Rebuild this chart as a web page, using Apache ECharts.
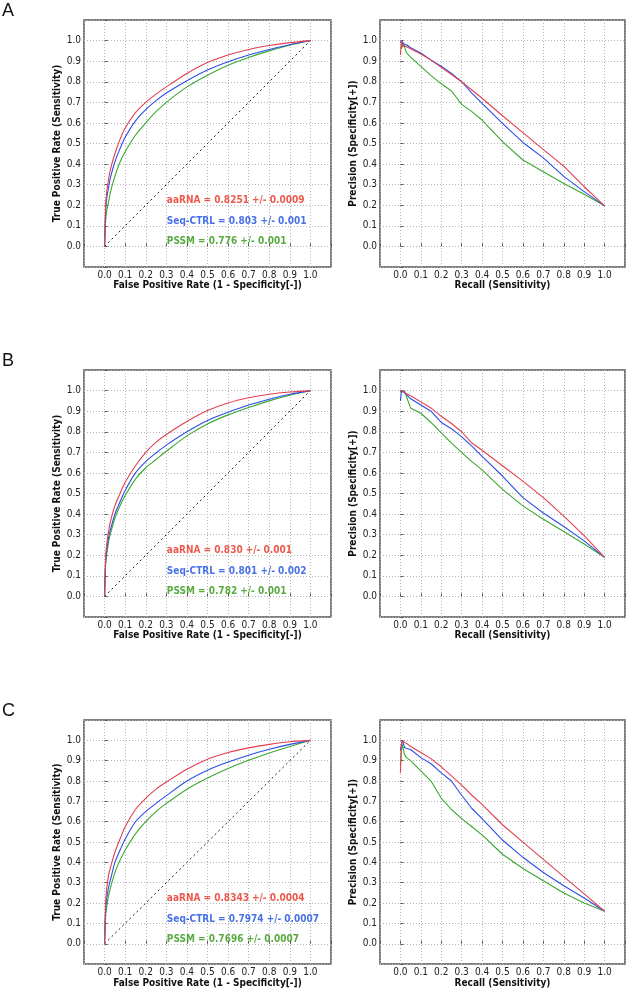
<!DOCTYPE html>
<html>
<head>
<meta charset="utf-8">
<script src="https://cdn.jsdelivr.net/npm/echarts@6/dist/echarts.min.js"></script>
<style>
  html, body { margin: 0; padding: 0; background: #fff; }
  #chart { width: 628px; height: 989px; }
</style>
</head>
<body>
<div id="chart"></div>
<script>
// panel letters and method names
const panelLetters = ['A', 'B', 'C']
const methods = ['aaRNA', 'Seq-CTRL', 'PSSM']
const lineColors = ['#e2404f', '#2b4ee6', '#3aa830']
const textColors = ['#e8301f', '#1a4ee0', '#2f9612']

// ROC: false positive rate (x) and true positive rate per method
const rocFpr = [0, 0.005, 0.01, 0.02, 0.03, 0.05, 0.075, 0.1, 0.15, 0.2, 0.25, 0.3, 0.4, 0.5, 0.6, 0.7, 0.8, 0.9, 1.0]
const rocAaRnaA   = [0, 0.20, 0.26, 0.33, 0.38, 0.45, 0.52, 0.575, 0.65, 0.70, 0.74, 0.775, 0.84, 0.893, 0.93, 0.957, 0.976, 0.99, 1.0]
const rocSeqCtrlA = [0, 0.17, 0.23, 0.29, 0.34, 0.41, 0.475, 0.53, 0.61, 0.665, 0.708, 0.745, 0.805, 0.857, 0.897, 0.93, 0.957, 0.98, 1.0]
const rocPssmA    = [0, 0.12, 0.17, 0.22, 0.27, 0.34, 0.41, 0.46, 0.54, 0.60, 0.655, 0.70, 0.775, 0.832, 0.88, 0.918, 0.95, 0.977, 1.0]
const rocAaRnaB   = [0, 0.19, 0.25, 0.32, 0.37, 0.44, 0.50, 0.555, 0.635, 0.70, 0.75, 0.787, 0.85, 0.903, 0.94, 0.965, 0.982, 0.993, 1.0]
const rocSeqCtrlB = [0, 0.17, 0.22, 0.29, 0.33, 0.40, 0.46, 0.515, 0.60, 0.655, 0.697, 0.735, 0.80, 0.855, 0.895, 0.93, 0.958, 0.982, 1.0]
const rocPssmB    = [0, 0.15, 0.20, 0.27, 0.31, 0.38, 0.44, 0.49, 0.57, 0.625, 0.665, 0.705, 0.78, 0.838, 0.882, 0.918, 0.95, 0.977, 1.0]
const rocAaRnaC   = [0, 0.20, 0.27, 0.34, 0.38, 0.45, 0.515, 0.575, 0.66, 0.715, 0.76, 0.795, 0.858, 0.907, 0.94, 0.963, 0.98, 0.993, 1.0]
const rocSeqCtrlC = [0, 0.17, 0.22, 0.28, 0.32, 0.40, 0.46, 0.515, 0.60, 0.65, 0.69, 0.728, 0.80, 0.853, 0.893, 0.927, 0.956, 0.98, 1.0]
const rocPssmC    = [0, 0.13, 0.18, 0.24, 0.28, 0.35, 0.41, 0.46, 0.54, 0.60, 0.65, 0.69, 0.76, 0.815, 0.862, 0.902, 0.938, 0.97, 1.0]

// PR: recall (x) and precision per method
const prRecall = [0, 0.005, 0.01, 0.02, 0.03, 0.05, 0.1, 0.15, 0.2, 0.25, 0.3, 0.35, 0.4, 0.5, 0.6, 0.7, 0.8, 0.9, 1.0]
const prAaRnaA   = [0.93, 1.0, 0.97, 0.975, 0.97, 0.96, 0.935, 0.905, 0.87, 0.835, 0.80, 0.76, 0.72, 0.635, 0.553, 0.47, 0.39, 0.29, 0.197]
const prSeqCtrlA = [0.99, 1.0, 1.0, 0.98, 0.98, 0.965, 0.94, 0.905, 0.875, 0.84, 0.80, 0.745, 0.695, 0.598, 0.505, 0.43, 0.34, 0.266, 0.197]
const prPssmA    = [0.97, 0.96, 0.99, 0.97, 0.94, 0.92, 0.875, 0.83, 0.79, 0.755, 0.69, 0.655, 0.614, 0.509, 0.42, 0.363, 0.306, 0.253, 0.197]
const prAaRnaB   = [1.0, 1.0, 1.0, 0.99, 0.985, 0.975, 0.945, 0.915, 0.875, 0.84, 0.80, 0.745, 0.71, 0.635, 0.56, 0.48, 0.39, 0.295, 0.19]
const prSeqCtrlB = [0.95, 1.0, 1.0, 0.99, 0.98, 0.96, 0.93, 0.90, 0.845, 0.815, 0.775, 0.73, 0.68, 0.585, 0.48, 0.405, 0.34, 0.27, 0.19]
const prPssmB    = [1.0, 0.99, 0.99, 1.0, 0.97, 0.915, 0.89, 0.845, 0.795, 0.745, 0.70, 0.655, 0.615, 0.52, 0.44, 0.375, 0.315, 0.255, 0.19]
const prAaRnaC   = [0.84, 0.98, 1.0, 0.99, 0.985, 0.97, 0.94, 0.91, 0.87, 0.825, 0.78, 0.73, 0.685, 0.585, 0.50, 0.415, 0.33, 0.245, 0.16]
const prSeqCtrlC = [0.95, 0.98, 1.0, 0.965, 0.96, 0.955, 0.915, 0.885, 0.84, 0.80, 0.73, 0.665, 0.615, 0.51, 0.425, 0.35, 0.285, 0.225, 0.16]
const prPssmC    = [0.88, 0.95, 0.98, 0.93, 0.915, 0.90, 0.85, 0.80, 0.715, 0.66, 0.615, 0.575, 0.535, 0.44, 0.37, 0.31, 0.25, 0.20, 0.16]

// AUC annotations
const aucTextA = ['aaRNA = 0.8251 +/- 0.0009', 'Seq-CTRL = 0.803 +/- 0.001', 'PSSM = 0.776 +/- 0.001']
const aucTextB = ['aaRNA = 0.830 +/- 0.001', 'Seq-CTRL = 0.801 +/- 0.002', 'PSSM = 0.782 +/- 0.001']
const aucTextC = ['aaRNA = 0.8343 +/- 0.0004', 'Seq-CTRL = 0.7974 +/- 0.0007', 'PSSM = 0.7696 +/- 0.0007']
const aucTextX = 0.3
const aucTextY = [0.222, 0.122, 0.022]

const chanceLine = [[0, 0], [1, 1]]

const rocSets = [
  [rocAaRnaA, rocSeqCtrlA, rocPssmA],
  [rocAaRnaB, rocSeqCtrlB, rocPssmB],
  [rocAaRnaC, rocSeqCtrlC, rocPssmC]
]
const prSets = [
  [prAaRnaA, prSeqCtrlA, prPssmA],
  [prAaRnaB, prSeqCtrlB, prPssmB],
  [prAaRnaC, prSeqCtrlC, prPssmC]
]
const aucTexts = [aucTextA, aucTextB, aucTextC]

const font = '"DejaVu Sans Condensed", "DejaVu Sans"'

function zip(xs, ys) {
  return xs.map((x, i) => [x, ys[i]])
}

function tickLabel(v) {
  if (v < -0.05 || v > 1.05) return ''
  return v.toFixed(1)
}

function makeAxis(idx, name, gap) {
  return {
    type: 'value',
    gridIndex: idx,
    min: -0.1,
    max: 1.1,
    interval: 0.1,
    name: name,
    nameLocation: 'middle',
    nameGap: gap,
    nameTextStyle: { fontFamily: font, fontWeight: 'bold', fontSize: 10, color: '#111' },
    axisLine: { show: false },
    axisTick: { show: true, inside: true, length: 3, lineStyle: { color: '#555' } },
    axisLabel: { formatter: tickLabel, fontFamily: font, fontSize: 10, color: '#222', margin: 3, showMinLabel: true, showMaxLabel: true },
    splitLine: { show: true, lineStyle: { color: '#b4b4b4', type: [1, 2], width: 1 } }
  }
}

const grids = []
const xAxes = []
const yAxes = []
const series = []
const graphics = []

for (let p = 0; p < 3; p++) {
  const top = 20 + 350 * p
  const rocIdx = p * 2
  const prIdx = p * 2 + 1
  grids.push({ left: 84, top: top, width: 247, height: 247, show: true, borderColor: '#555', borderWidth: 1.5 })
  grids.push({ left: 380, top: top, width: 247, height: 247, show: true, borderColor: '#555', borderWidth: 1.5 })
  xAxes.push(makeAxis(rocIdx, 'False Positive Rate (1 - Specificity[-])', 13))
  xAxes.push(makeAxis(prIdx, 'Recall (Sensitivity)', 13))
  yAxes.push(makeAxis(rocIdx, 'True Positive Rate (Sensitivity)', 16))
  yAxes.push(makeAxis(prIdx, 'Precision (Specificity[+])', 16))

  series.push({
    type: 'line', xAxisIndex: rocIdx, yAxisIndex: rocIdx, data: chanceLine,
    showSymbol: false, silent: true,
    lineStyle: { color: '#222', width: 1, type: [2, 3] }
  })
  for (let m = 0; m < 3; m++) {
    series.push({
      type: 'line', name: methods[m], xAxisIndex: rocIdx, yAxisIndex: rocIdx,
      data: zip(rocFpr, rocSets[p][m]), showSymbol: false, smooth: 0.3,
      lineStyle: { color: lineColors[m], width: 1.1 }, z: 5 - m
    })
    series.push({
      type: 'line', name: methods[m], xAxisIndex: prIdx, yAxisIndex: prIdx,
      data: zip(prRecall, prSets[p][m]), showSymbol: false,
      lineStyle: { color: lineColors[m], width: 1.1 }, z: 5 - m
    })
  }
  series.push({
    type: 'scatter', xAxisIndex: rocIdx, yAxisIndex: rocIdx, symbolSize: 1,
    itemStyle: { color: 'rgba(0,0,0,0)' }, silent: true, z: 10,
    data: aucTexts[p].map((t, m) => ({
      value: [aucTextX, aucTextY[m]], name: t,
      label: { color: textColors[m] }
    })),
    label: {
      show: true, position: 'right', distance: 0, formatter: '{b}',
      fontFamily: font, fontWeight: 'bold', fontSize: 10
    },
    labelLayout: { hideOverlap: false }
  })
  graphics.push({
    type: 'text', left: 2, top: 2 + 350 * p,
    style: { text: panelLetters[p], font: '18px "Liberation Sans"', fill: '#111' }
  })
}

const chart = echarts.init(document.getElementById('chart'))
chart.setOption({
  animation: false,
  backgroundColor: '#fff',
  grid: grids,
  xAxis: xAxes,
  yAxis: yAxes,
  series: series,
  graphic: graphics
})
</script>
</body>
</html>
